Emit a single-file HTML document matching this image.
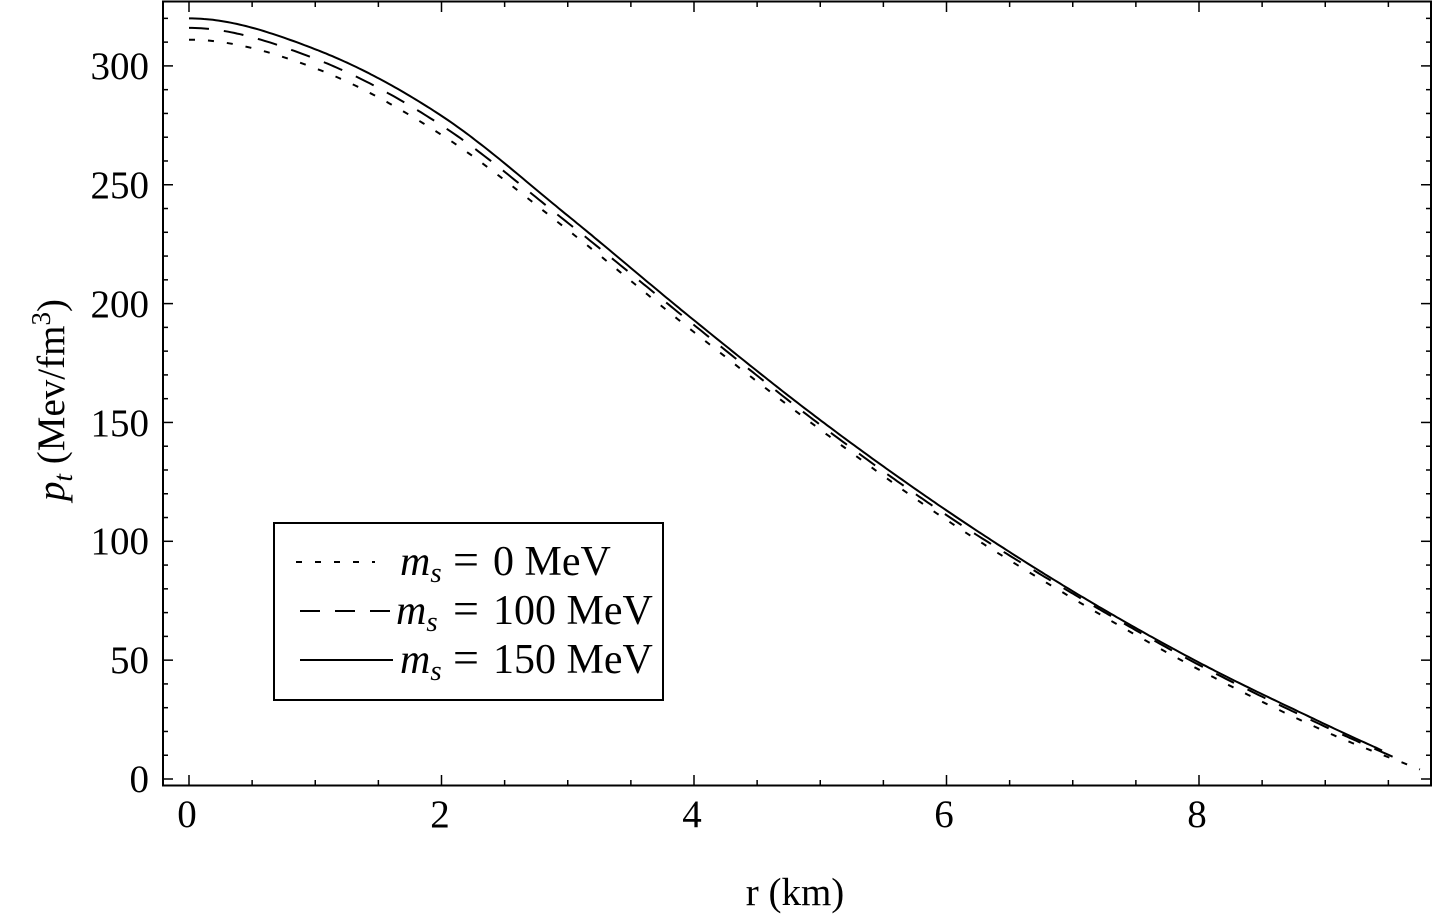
<!DOCTYPE html>
<html><head><style>
body{margin:0;background:#fff}
svg{display:block;font-family:"Liberation Serif",serif}
</style></head><body>
<svg id="s" width="1433" height="916" xmlns="http://www.w3.org/2000/svg">
<rect x="163" y="1.5" width="1268" height="784" fill="none" stroke="#000" stroke-width="2"/>
<g id="ticks" stroke="#000" stroke-width="1.5"></g>
<g id="curves" fill="none" stroke="#000" stroke-width="2"></g>
<g font-size="39" text-anchor="middle">
<text x="187" y="827">0</text><text x="440" y="827">2</text><text x="692" y="827">4</text><text x="944" y="827">6</text><text x="1197" y="827">8</text>
</g>
<g font-size="39" text-anchor="end">
<text x="149" y="792">0</text><text x="149" y="673">50</text><text x="149" y="554">100</text><text x="149" y="436">150</text><text x="149" y="317">200</text><text x="149" y="198">250</text><text x="149" y="79">300</text>
</g>
<text x="795" y="905" font-size="39" text-anchor="middle">r (km)</text>
<text transform="translate(64,400) rotate(-90)" font-size="39" text-anchor="middle"><tspan font-style="italic">p</tspan><tspan font-style="italic" font-size="27" dy="8">t</tspan><tspan dy="-8"> (Mev/fm</tspan><tspan font-size="27" dy="-14">3</tspan><tspan dy="14">)</tspan></text>
<rect x="274" y="523" width="389" height="177" fill="#fff" stroke="#000" stroke-width="2"/>
<g stroke="#000" stroke-width="2">
<line x1="296" y1="562" x2="375" y2="562" stroke-dasharray="6,13"/>
<line x1="300" y1="611" x2="395" y2="611" stroke-dasharray="20,15"/>
<line x1="300" y1="660" x2="393" y2="660"/>
</g>
<g font-size="42">
<text y="575"><tspan x="400" font-style="italic">m</tspan><tspan font-style="italic" font-size="29" dy="7">s</tspan><tspan x="453" dy="-7" font-size="46">=</tspan><tspan x="493">0 MeV</tspan></text>
<text y="624"><tspan x="396" font-style="italic">m</tspan><tspan font-style="italic" font-size="29" dy="7">s</tspan><tspan x="453" dy="-7" font-size="46">=</tspan><tspan x="493">100 MeV</tspan></text>
<text y="673"><tspan x="400" font-style="italic">m</tspan><tspan font-style="italic" font-size="29" dy="7">s</tspan><tspan x="453" dy="-7" font-size="46">=</tspan><tspan x="493">150 MeV</tspan></text>
</g>
</svg>
<script>
var X=r=>189+126.25*r, Y=p=>779-2.377*p;
var t=document.getElementById('ticks'),h='';
for(var i=0;i<=19;i++){var x=X(i*0.5),L=i%4==0?10:5;h+=`<line x1="${x}" y1="785" x2="${x}" y2="${785-L}"/><line x1="${x}" y1="2" x2="${x}" y2="${2+L}"/>`;}
for(var v=0;v<=320;v+=10){var y=Y(v),L=v%50==0?10:5;h+=`<line x1="163" y1="${y}" x2="${163+L}" y2="${y}"/><line x1="1431" y1="${y}" x2="${1431-L}" y2="${y}"/>`;}
t.innerHTML=h;
function path(rs,ps){var n=rs.length,m=[];
for(var i=0;i<n;i++){if(i==0)m.push(0);else if(i==n-1)m.push((ps[i]-ps[i-1])/(rs[i]-rs[i-1]));else m.push((ps[i+1]-ps[i-1])/(rs[i+1]-rs[i-1]));}
var d='';for(var k=0;k<=400;k++){var r=rs[n-1]*k/400;var i=0;while(i<n-2&&r>rs[i+1])i++;
var hh=rs[i+1]-rs[i],u=(r-rs[i])/hh;
var p=(2*u*u*u-3*u*u+1)*ps[i]+(u*u*u-2*u*u+u)*hh*m[i]+(-2*u*u*u+3*u*u)*ps[i+1]+(u*u*u-u*u)*hh*m[i+1];
d+=(k?'L':'M')+X(r).toFixed(1)+','+Y(p).toFixed(1);}return d;}
var rs=[0,1,2,3,4,5,6,7,8,9];
var c='';
c+=`<path d="${path(rs.concat([9.75]),[311,299,271,231,188,147,109,76,46,20,4])}" stroke-dasharray="6,13"/>`;
c+=`<path d="${path(rs.concat([9.55]),[316,303,275,234,191,149,111,78,48,22,9])}" stroke-dasharray="20,15"/>`;
c+=`<path d="${path(rs.concat([9.45]),[320,307,279,237,193,151,113,79,49,23,12])}"/>`;
document.getElementById('curves').innerHTML=c;
</script>
</body></html>
